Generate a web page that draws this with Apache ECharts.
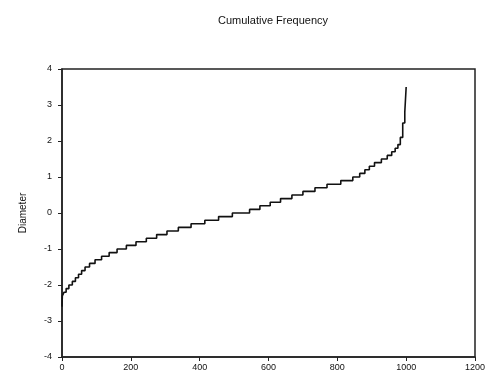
<!DOCTYPE html>
<html>
<head>
<meta charset="utf-8">
<script src="https://cdn.jsdelivr.net/npm/echarts@6/dist/echarts.min.js"></script>
<style>
  html, body { margin: 0; padding: 0; background: #fff; }
</style>
</head>
<body>
<div id="chart" style="width: 491px; height: 379px;"></div>
<script>
    // step levels (diameter) and the observation index where each level starts
    let levels = [-2.6, -2.3, -2.2, -2.1, -2.0, -1.9, -1.8, -1.7, -1.6, -1.5, -1.4, -1.3, -1.2, -1.1, -1.0,
        -0.9, -0.8, -0.7, -0.6, -0.5, -0.4, -0.3, -0.2, -0.1, 0.0, 0.1, 0.2, 0.3, 0.4, 0.5, 0.6, 0.7, 0.8,
        0.9, 1.0, 1.1, 1.2, 1.3, 1.4, 1.5, 1.6, 1.7, 1.8, 1.9, 2.1, 2.5, 2.8, 3.5];
    let starts = [0, 1, 6, 12, 20, 30, 39, 48, 57, 67, 80, 96, 115, 137, 160,
        187, 215, 245, 275, 305, 338, 375, 415, 455, 495, 545, 575, 605, 635, 668, 700, 735, 770,
        810, 845, 865, 880, 893, 908, 928, 945, 958, 968, 976, 983, 990, 996, 1000];
    let xTicks = [0, 200, 400, 600, 800, 1000, 1200];
    let yTicks = [-4, -3, -2, -1, 0, 1, 2, 3, 4];

    let CHART = echarts.init(document.getElementById('chart'));
    let lineData = starts.map(function (s, i) { return [s, levels[i]]; });
    let txt = { color: '#111', fontFamily: 'Liberation Sans, Arial, sans-serif' };

    CHART.setOption({
        animation: false,
        title: {
            text: 'Cumulative Frequency',
            left: 268,
            top: 10,
            textAlign: 'center',
            textStyle: Object.assign({ fontSize: 11, fontWeight: 'normal' }, txt)
        },
        grid: {
            left: 62,
            right: 16,
            top: 69,
            bottom: 22,
            show: true,
            borderColor: '#222',
            borderWidth: 1.5,
            backgroundColor: 'transparent'
        },
        xAxis: {
            type: 'value',
            min: xTicks[0],
            max: xTicks[xTicks.length - 1],
            interval: 200,
            axisLine: { onZero: false, lineStyle: { color: '#222', width: 1.5 } },
            axisTick: { show: true, length: 4, lineStyle: { color: '#222' } },
            splitLine: { show: false },
            axisLabel: Object.assign({ fontSize: 9, margin: 6, formatter: function (v) { return String(v); } }, txt)
        },
        yAxis: {
            type: 'value',
            min: yTicks[0],
            max: yTicks[yTicks.length - 1],
            interval: 1,
            name: 'Diameter',
            nameLocation: 'middle',
            nameRotate: 90,
            nameGap: 34,
            nameTextStyle: Object.assign({ fontSize: 10 }, txt),
            axisLine: { onZero: false, lineStyle: { color: '#222', width: 1.5 } },
            axisTick: { show: true, length: 4, lineStyle: { color: '#222' } },
            splitLine: { show: false },
            axisLabel: Object.assign({ fontSize: 9, margin: 10 }, txt)
        },
        series: [{
            type: 'line',
            step: 'end',
            data: lineData,
            showSymbol: false,
            lineStyle: { color: '#111', width: 1.6 }
        }]
    });
</script>
</body>
</html>
